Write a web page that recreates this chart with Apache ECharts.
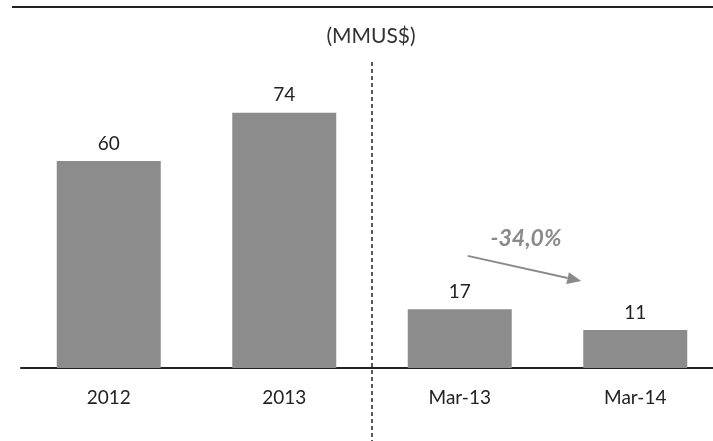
<!DOCTYPE html>
<html><head><meta charset="utf-8">
<script src="https://cdn.jsdelivr.net/npm/echarts@6/dist/echarts.min.js"></script>
<style>html,body{margin:0;padding:0;background:#fff}#c{width:713px;height:441px}</style>
</head><body><div id="c"></div>
<script>
const categories = ['2012', '2013', 'Mar-13', 'Mar-14'];
const values = [60, 74, 17, 11];
const unitTitle = '(MMUS$)';
const changeLabel = '-34,0%';

const FONT = 'Lato, "Open Sans", sans-serif';
const chart = echarts.init(document.getElementById('c'));
chart.setOption({
  animation: false,
  backgroundColor: '#fff',
  title: { text: unitTitle, left: 366, top: 21, textAlign: 'center',
    textStyle: { fontFamily: FONT, fontWeight: 'normal', fontSize: 21, color: '#333' } },
  grid: { left: 21, width: 702, top: 23, bottom: 73, outerBoundsMode: 'none', containLabel: false },
  xAxis: { type: 'category', data: categories,
    axisLine: { lineStyle: { color: '#222', width: 2 } },
    axisTick: { show: false },
    axisLabel: { margin: 20, fontFamily: FONT, fontSize: 19, color: '#222' } },
  yAxis: { type: 'value', min: 0, max: 100, show: false, splitLine: { show: false } },
  series: [{ type: 'bar', data: values, barWidth: 104,
    itemStyle: { color: '#8c8c8c' },
    label: { show: true, position: 'top', distance: 8, fontFamily: FONT, fontSize: 19, color: '#222' } }]
});

const c1 = chart.convertToPixel({ xAxisIndex: 0 }, 1);
const c2 = chart.convertToPixel({ xAxisIndex: 0 }, 2);
const c3 = chart.convertToPixel({ xAxisIndex: 0 }, 3);
const sepX = Math.round((c1 + c2) / 2);
const y1 = chart.convertToPixel({ yAxisIndex: 0 }, 32.5);
const y2 = chart.convertToPixel({ yAxisIndex: 0 }, 25.2);
const x1 = c2 + 8, x2 = c3 - 54;
const ang = Math.atan2(y2 - y1, x2 - x1);
const L = 14, W = 6;
const bx = x2 - L * Math.cos(ang), by = y2 - L * Math.sin(ang);
const px = -Math.sin(ang) * W, py = Math.cos(ang) * W;

chart.setOption({
  graphic: [
    { type: 'line', shape: { x1: 12, y1: 7, x2: 713, y2: 7 }, style: { stroke: '#222', lineWidth: 2 } },
    { type: 'line', shape: { x1: sepX, y1: 62, x2: sepX, y2: 441 }, style: { stroke: '#222', lineWidth: 1.5, lineDash: [4, 3] } },
    { type: 'line', shape: { x1: x1, y1: y1, x2: bx, y2: by }, style: { stroke: '#8a8a8a', lineWidth: 2 } },
    { type: 'polygon', shape: { points: [[x2, y2], [bx + px, by + py], [bx - px, by - py]] }, style: { fill: '#8a8a8a' } },
    { type: 'text', x: 526, y: 239, style: { text: changeLabel, fill: '#8a8a8a', font: 'italic bold 23px ' + FONT, align: 'center', verticalAlign: 'middle' } }
  ]
});
</script></body></html>
